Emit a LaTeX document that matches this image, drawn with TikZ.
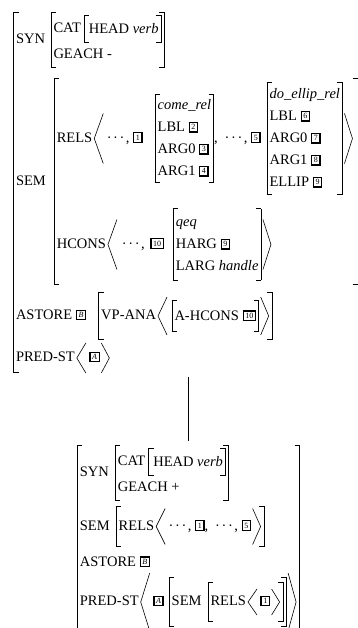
\documentclass[tikz,border=0pt]{standalone}
\usepackage{fontspec}
\setmainfont{Liberation Serif}
\usepackage{amsmath}
\usepackage{pict2e}
\newlength\brw \setlength\brw{0.7pt}
% brackets of a given height (pt), centred on the math axis
\newcommand\brL[1]{\mathopen{\vcenter{\hrule width 5.5pt height \brw
  \hbox{\vrule width \brw height \dimexpr#1pt-2\brw\relax}\hrule width 5.5pt height \brw}}}
\newcommand\brR[1]{\mathclose{\vcenter{\hrule width 5.5pt height \brw
  \hbox to 5.5pt{\hfil\vrule width \brw height \dimexpr#1pt-2\brw\relax}\hrule width 5.5pt height \brw}}}
\newcommand\avm[2]{\brL{#1}\kern-2.5pt\begin{array}{@{}l@{}}#2\end{array}\kern-2.5pt\brR{#1}}
% angle brackets: height, half height
\newcommand\la[2]{\mathopen{\kern2pt\vcenter{\hbox{\setlength\unitlength{1pt}\begin{picture}(9,#1)\linethickness{0.6pt}\polyline(9,#1)(0,#2)(9,0)\end{picture}}}\kern3.5pt}}
\newcommand\ra[2]{\mathclose{\kern1.5pt\vcenter{\hbox{\setlength\unitlength{1pt}\begin{picture}(8,#1)\linethickness{0.6pt}\polyline(0,#1)(8,#2)(0,0)\end{picture}}}\kern1pt}}
\newcommand\at[1]{\text{#1}}
\newcommand\ty[1]{\text{\itshape #1}}
\newcommand\tg[1]{\text{\raisebox{2pt}{\fboxsep=1.5pt\fboxrule=1.3pt\fbox{\fontsize{8}{8}\selectfont #1}}}}
\newcommand\dts{\text{·\kern1.6pt·\kern1.6pt·\kern1.5pt,\kern3.5pt}}
\newcommand\cmm{\text{,\kern7pt}}
\newcommand\gp[1]{\\\noalign{\vskip#1pt}}
\renewcommand\arraystretch{1.264}
\begin{document}
\begin{tikzpicture}[x=1pt,y=-1pt,
  every node/.style={inner sep=0pt,outer sep=0pt,font=\fontsize{14.5}{17.4}\selectfont},
  link/.style={line width=0.6pt,shorten <=4pt,shorten >=4pt}]
\useasboundingbox (0,0) rectangle (357,628);
\node[anchor=north west] (top) at (13,12) {$\avm{361}{
 \at{SYN}\kern5.5pt\avm{56}{\at{CAT}\kern3pt\avm{28}{\kern2pt\at{HEAD }\ty{verb}}\\ \at{GEACH -}}\gp{10}
 \at{SEM}\kern8pt\avm{207}{
   \at{RELS}\la{50}{25}\dts\tg{1}\kern12pt\avm{88}{\ty{come\_rel}\\ \at{LBL~}\tg{2}\\ \at{ARG0~}\tg{3}\\ \at{ARG1~}\tg{4}}\cmm\dts\tg{5}\kern6pt\avm{112}{\ty{do\_ellip\_rel}\\ \at{LBL~}\tg{6}\\ \at{ARG0~}\tg{7}\\ \at{ARG1~}\tg{8}\\ \at{ELLIP~}\tg{9}}\ra{50}{25}\kern2pt\gp{14}
   \at{HCONS}\la{50}{25}\kern1.5pt\dts\kern2pt\tg{10}\kern9pt\avm{72}{\ty{qeq}\\ \at{HARG~}\tg{9}\\ \at{LARG }\ty{handle}}\ra{50}{25}
 }\kern6pt\gp{7}
 \at{ASTORE~}\tg{\textit{B}}\kern12pt\avm{48}{\at{VP-ANA}\la{38}{19}\kern1pt\avm{32}{\at{A-HCONS~}\tg{10}}\ra{38}{19}}\gp{3}
 \at{PRED-ST}\la{30}{15}\tg{\textit{A}}\ra{30}{15}
}$};
\node[anchor=north] (bot) at (188.5,445) {$\avm{186}{
 \at{SYN}\kern6pt\avm{56}{\at{CAT}\kern3pt\avm{28}{\kern2pt\at{HEAD }\ty{verb}}\\ \at{GEACH +}}\gp{5}
 \at{SEM}\kern6pt\avm{41}{\at{RELS}\la{36}{18}\dts\tg{1}\cmm\dts\tg{5}\ra{36}{18}}\gp{4}
 \at{ASTORE~}\tg{\textit{B}}\\
 \at{PRED-ST}\la{58}{29}\tg{\textit{A}}\kern5pt\avm{50}{\at{SEM}\kern6pt\avm{40}{\at{RELS}\la{26}{13}\tg{1}\ra{26}{13}}}\ra{58}{29}
}$};
\draw[link] (top.south -| bot.north) -- (bot.north);
\end{tikzpicture}
\end{document}
